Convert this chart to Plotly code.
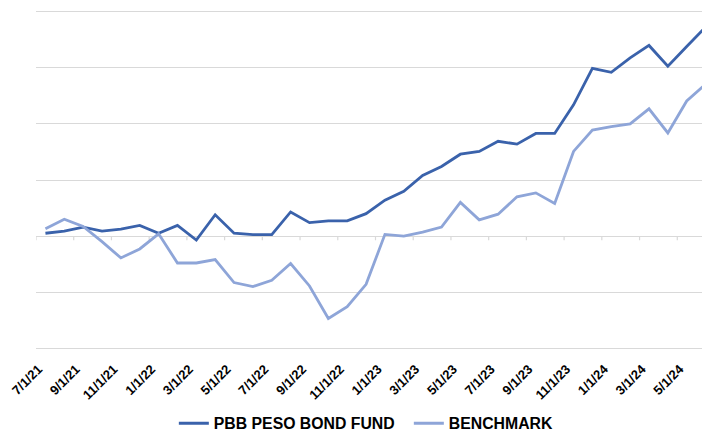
import plotly.graph_objects as go

months = ["7/1/21","8/1/21","9/1/21","10/1/21","11/1/21","12/1/21",
          "1/1/22","2/1/22","3/1/22","4/1/22","5/1/22","6/1/22",
          "7/1/22","8/1/22","9/1/22","10/1/22","11/1/22","12/1/22",
          "1/1/23","2/1/23","3/1/23","4/1/23","5/1/23","6/1/23",
          "7/1/23","8/1/23","9/1/23","10/1/23","11/1/23","12/1/23",
          "1/1/24","2/1/24","3/1/24","4/1/24","5/1/24","6/1/24"]

fund = [0.05, 0.09, 0.16, 0.09, 0.125, 0.19, 0.05, 0.19, -0.07, 0.38,
        0.05, 0.025, 0.025, 0.43, 0.24, 0.27, 0.27, 0.40, 0.64, 0.80,
        1.08, 1.24, 1.46, 1.51, 1.69, 1.64, 1.83, 1.83, 2.34, 2.99,
        2.92, 3.18, 3.40, 3.03, 3.38, 3.73]

benchmark = [0.13, 0.30, 0.17, -0.10, -0.39, -0.23, 0.04, -0.48, -0.48, -0.42,
             -0.83, -0.90, -0.79, -0.49, -0.89, -1.47, -1.26, -0.86, 0.03, 0.00,
             0.07, 0.16, 0.60, 0.29, 0.39, 0.70, 0.77, 0.58, 1.51, 1.89,
             1.95, 2.00, 2.27, 1.84, 2.41, 2.71]

tick_labels = months[::2]

DARK = "#3A62AB"
LIGHT = "#8EA5D8"
FONT = "Liberation Sans, Arial, sans-serif"

fig = go.Figure()
fig.add_trace(go.Scatter(x=months, y=fund, mode="lines", name="<b>PBB PESO BOND FUND</b>",
                         line=dict(color=DARK, width=2.8)))
fig.add_trace(go.Scatter(x=months, y=benchmark, mode="lines", name="<b>BENCHMARK</b>",
                         line=dict(color=LIGHT, width=2.8)))

# small category tick marks below the zero line, between every second category
shapes = []
k = -0.5
while k < 36:
    shapes.append(dict(type="line", xref="x", yref="y", x0=k, x1=k, y0=0, y1=-0.075,
                       line=dict(color="#D9D9D9", width=1.2), layer="below"))
    k += 2

fig.update_layout(
    width=710, height=431,
    margin=dict(l=28, r=3, t=1, b=88, autoexpand=False),
    paper_bgcolor="white", plot_bgcolor="white",
    shapes=shapes,
    showlegend=True,
    legend=dict(orientation="h", x=0.203, xanchor="left", y=-0.212, yanchor="middle",
                font=dict(family=FONT, size=15.8, color="#000000"),
                itemwidth=30, entrywidth=190, entrywidthmode="pixels",
                tracegroupgap=0, bgcolor="rgba(0,0,0,0)"),
    font=dict(family=FONT, color="#000000"),
)
fig.update_xaxes(type="category", categoryorder="array", categoryarray=months,
                 range=[-0.5, 35.5], tickmode="array", tickvals=tick_labels,
                 ticktext=["<b>%s</b>" % t for t in tick_labels], tickangle=-45,
                 tickfont=dict(family=FONT, size=13, color="#000000"),
                 ticklabelstandoff=7, ticklabelshift=-7,
                 showgrid=False, showline=False, ticks="", zeroline=False,
                 automargin=False)
fig.update_yaxes(range=[-2.05, 4.05], dtick=1, tick0=0, showticklabels=False, showgrid=True,
                 gridcolor="#D9D9D9", gridwidth=1.2, zeroline=True,
                 zerolinecolor="#D9D9D9", zerolinewidth=1.4, showline=False, ticks="",
                 automargin=False)

fig.write_html("out.html")
